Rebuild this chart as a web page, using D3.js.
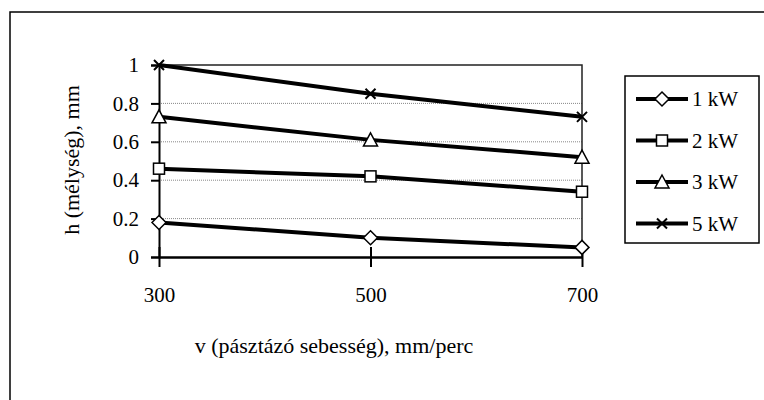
<!DOCTYPE html>
<html>
<head>
<meta charset="utf-8">
<script src="https://cdn.jsdelivr.net/npm/d3@7"></script>
</head>
<body style="margin:0; background:#fff">
<script>
// data
var speeds = [300, 500, 700]
var seriesNames = ["1 kW", "2 kW", "3 kW", "5 kW"]
var kw1 = [0.18, 0.10, 0.05]
var kw2 = [0.46, 0.42, 0.34]
var kw3 = [0.73, 0.61, 0.52]
var kw5 = [1.00, 0.85, 0.73]
var symbols = ["diamond", "square", "triangle", "cross"]
var yTicks = [0, 0.2, 0.4, 0.6, 0.8, 1]

var series = [kw1, kw2, kw3, kw5].map(function (vals, i) {
  return { name: seriesNames[i], sym: symbols[i],
    pts: vals.map(function (v, j) { return { x: speeds[j], y: v } }) }
})

var font = "'Liberation Serif'"
var w = 764, h = 400
var svg = d3.select("body").append("svg").attr("width", w).attr("height", h)

// outer frame
svg.append("rect").attr("x", 10).attr("y", 12).attr("width", 800).attr("height", 500)
  .attr("fill", "none").attr("stroke", "#000").attr("stroke-width", 1.5)

var x = d3.scaleLinear().domain([300, 700]).range([159, 582])
var y = d3.scaleLinear().domain([0, 1]).range([257, 65])

// gridlines
svg.selectAll("line.grid").data(yTicks.filter(function (d) { return d > 0 && d < 1 }))
  .enter().append("line")
  .attr("x1", x(300)).attr("x2", x(700))
  .attr("y1", function (d) { return y(d) }).attr("y2", function (d) { return y(d) })
  .attr("stroke", "#888").attr("stroke-width", 1).attr("stroke-dasharray", "1,1")

// plot frame top/right
svg.append("path")
  .attr("d", "M" + x(300) + "," + y(1) + "H" + x(700) + "V" + y(0))
  .attr("fill", "none").attr("stroke", "#222").attr("stroke-width", 1.5)

// y axis
var yAxis = d3.axisLeft(y).tickValues(yTicks).tickSize(8).tickPadding(12)
  .tickFormat(function (d) { return d3.format("")(d) })
var gy = svg.append("g").attr("transform", "translate(" + x(300) + ",0)").call(yAxis)
gy.select(".domain").attr("stroke-width", 2)
gy.selectAll(".tick line").attr("stroke-width", 2)
gy.selectAll("text").style("font-size", "21px").style("font-family", font)

// x axis, ticks crossing the axis
var xAxis = d3.axisBottom(x).tickValues(speeds).tickSizeInner(10).tickSizeOuter(0).tickPadding(20)
var gx = svg.append("g").attr("transform", "translate(0," + y(0) + ")").call(xAxis)
gx.select(".domain").attr("stroke-width", 2.5)
gx.selectAll(".tick line").attr("y1", -10).attr("stroke-width", 2)
gx.selectAll("text").style("font-size", "21px").style("font-family", font)

// lines
var line = d3.line().x(function (d) { return x(d.x) }).y(function (d) { return y(d.y) })
svg.selectAll("path.series").data(series).enter().append("path")
  .attr("d", function (d) { return line(d.pts) })
  .attr("fill", "none").attr("stroke", "#000").attr("stroke-width", 4)

function drawMarker(g, sym) {
  if (sym == "diamond")
    g.append("path").attr("d", "M0,-7L7,0L0,7L-7,0Z")
      .attr("fill", "#fff").attr("stroke", "#000").attr("stroke-width", 1.5)
  else if (sym == "square")
    g.append("rect").attr("x", -5.5).attr("y", -5.5).attr("width", 11).attr("height", 11)
      .attr("fill", "#fff").attr("stroke", "#000").attr("stroke-width", 1.5)
  else if (sym == "triangle")
    g.append("path").attr("d", "M0,-7L7,6L-7,6Z")
      .attr("fill", "#fff").attr("stroke", "#000").attr("stroke-width", 1.5)
  else
    g.append("path").attr("d", "M-5,-5L5,5M-5,5L5,-5")
      .attr("fill", "none").attr("stroke", "#000").attr("stroke-width", 2)
}

series.forEach(function (s) {
  s.pts.forEach(function (p) {
    var g = svg.append("g").attr("transform", "translate(" + x(p.x) + "," + y(p.y) + ")")
    drawMarker(g, s.sym)
  })
})

// axis titles
svg.append("text").attr("x", 334).attr("y", 353).attr("text-anchor", "middle")
  .style("font-size", "22px").style("font-family", font).text("v (pásztázó sebesség), mm/perc")
svg.append("text").attr("transform", "translate(79,160) rotate(-90)").attr("text-anchor", "middle")
  .style("font-size", "22px").style("font-family", font).text("h (mélység), mm")

// legend
var lg = svg.append("g")
lg.append("rect").attr("x", 625).attr("y", 76).attr("width", 134).attr("height", 167)
  .attr("fill", "#fff").attr("stroke", "#000").attr("stroke-width", 1.5)
series.forEach(function (s, i) {
  var ly = 99 + i * 41.5
  lg.append("line").attr("x1", 636).attr("x2", 688).attr("y1", ly).attr("y2", ly)
    .attr("stroke", "#000").attr("stroke-width", 4)
  drawMarker(lg.append("g").attr("transform", "translate(662," + ly + ")"), s.sym)
  lg.append("text").attr("x", 692).attr("y", ly + 7).style("font-size", "21px")
    .style("font-family", font).text(s.name)
})
</script>
</body>
</html>
